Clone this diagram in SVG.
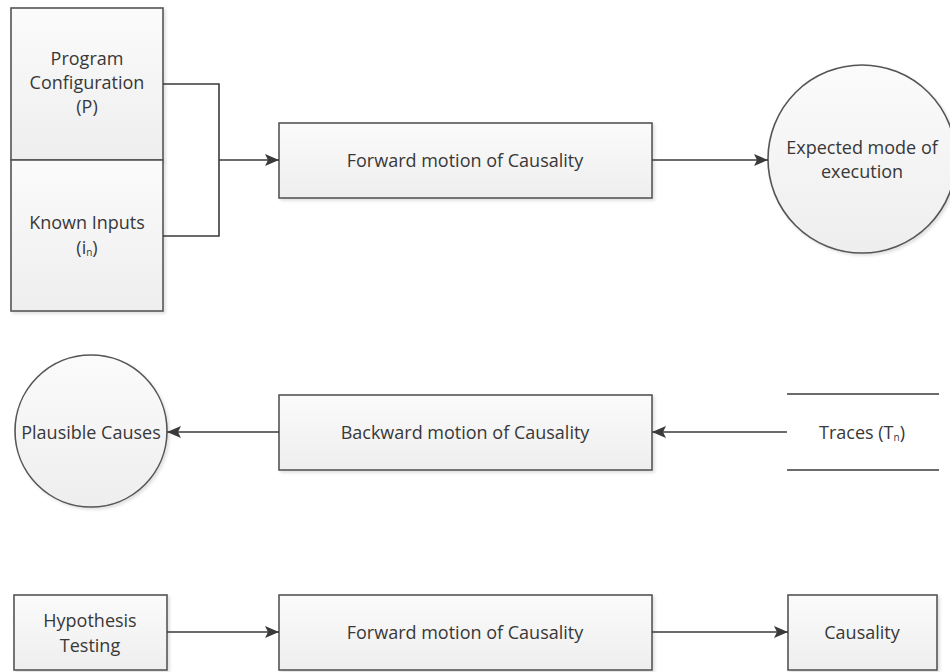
<svg xmlns="http://www.w3.org/2000/svg" width="950" height="672" viewBox="0 0 950 672">
  <defs>
    <linearGradient id="boxFill" x1="0" y1="0" x2="0" y2="1">
      <stop offset="0" stop-color="#fbfbfb"/>
      <stop offset="1" stop-color="#eeeeee"/>
    </linearGradient>
    <filter id="shadow" x="-10%" y="-10%" width="130%" height="130%">
      <feDropShadow dx="2" dy="2" stdDeviation="1.5" flood-color="#000" flood-opacity="0.12"/>
    </filter>
    <marker id="arrow" viewBox="0 0 14 12" refX="14" refY="6" markerWidth="14" markerHeight="12" markerUnits="userSpaceOnUse" orient="auto">
      <path d="M0,0 L14,6 L0,12 L3,6 Z" fill="#3a3a3a"/>
    </marker>
    <style>
      .shape { fill: url(#boxFill); stroke: #555; stroke-width: 1.6; filter: url(#shadow); }
      .line { fill: none; stroke: #3a3a3a; stroke-width: 1.6; }
      .wire { fill: none; stroke: #3a3a3a; stroke-width: 1.6; marker-end: url(#arrow); }
      .label { font-family: "Open Sans", "Liberation Sans", sans-serif; font-size: 18px; fill: #383838; text-anchor: middle; dominant-baseline: central; }
      .sub { font-size: 10px; }
    </style>
  </defs>

  <!-- Nodes -->
  <g id="program-configuration">
    <rect class="shape" x="11" y="8" width="152" height="152"/>
    <text class="label" x="87" y="58">Program</text>
    <text class="label" x="87" y="82">Configuration</text>
    <text class="label" x="87" y="106">(P)</text>
  </g>
  <g id="known-inputs">
    <rect class="shape" x="11" y="160" width="152" height="151"/>
    <text class="label" x="87" y="222">Known Inputs</text>
    <text class="label" x="87" y="247">(i<tspan class="sub" dy="5">n</tspan><tspan dy="-5">)</tspan></text>
  </g>
  <g id="forward-motion-1">
    <rect class="shape" x="279" y="123" width="373" height="75"/>
    <text class="label" x="465" y="160">Forward motion of Causality</text>
  </g>
  <g id="expected-mode">
    <circle class="shape" cx="862" cy="159" r="94"/>
    <text class="label" x="862" y="147">Expected mode of</text>
    <text class="label" x="862" y="171">execution</text>
  </g>
  <g id="plausible-causes">
    <circle class="shape" cx="91" cy="431" r="76"/>
    <text class="label" x="91" y="432">Plausible Causes</text>
  </g>
  <g id="backward-motion">
    <rect class="shape" x="279" y="395" width="373" height="75"/>
    <text class="label" x="465" y="432">Backward motion of Causality</text>
  </g>
  <g id="traces">
    <line class="line" x1="787" y1="394" x2="939" y2="394" stroke="#505050"/>
    <line class="line" x1="787" y1="470" x2="939" y2="470" stroke="#505050"/>
    <text class="label" x="862" y="432">Traces (T<tspan class="sub" dy="5">n</tspan><tspan dy="-5">)</tspan></text>
  </g>
  <g id="hypothesis-testing">
    <rect class="shape" x="14" y="595" width="153" height="75"/>
    <text class="label" x="90" y="620">Hypothesis</text>
    <text class="label" x="90" y="645">Testing</text>
  </g>
  <g id="forward-motion-2">
    <rect class="shape" x="279" y="595" width="373" height="75"/>
    <text class="label" x="465" y="632">Forward motion of Causality</text>
  </g>
  <g id="causality">
    <rect class="shape" x="788" y="595" width="149" height="75"/>
    <text class="label" x="862" y="632">Causality</text>
  </g>

  <!-- Connectors -->
  <g id="connectors">
    <polyline class="line" points="163,84 219,84 219,236 163,236"/>
    <line class="wire" x1="219" y1="160" x2="279" y2="160"/>
    <line class="wire" x1="652" y1="160" x2="768" y2="160"/>
    <line class="wire" x1="787" y1="432" x2="652" y2="432"/>
    <line class="wire" x1="279" y1="432" x2="167" y2="432"/>
    <line class="wire" x1="167" y1="632" x2="279" y2="632"/>
    <line class="wire" x1="652" y1="632" x2="788" y2="632"/>
  </g>
</svg>
